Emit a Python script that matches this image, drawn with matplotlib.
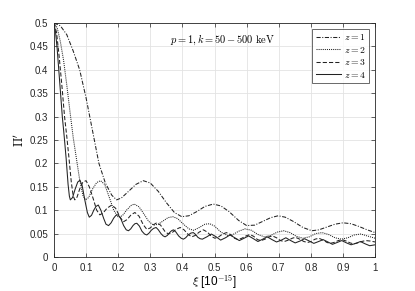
import matplotlib
matplotlib.use("Agg")
import matplotlib.pyplot as plt

plt.rcParams['font.family'] = ['Liberation Sans', 'DejaVu Sans']
plt.rcParams['mathtext.fontset'] = 'cm'

# z = 1 (dash-dot)
x1 = [0, 0.02, 0.04, 0.06, 0.08, 0.10, 0.12, 0.14, 0.16, 0.18, 0.195, 0.21, 0.235, 0.255,
      0.278, 0.30, 0.325, 0.35, 0.375, 0.398, 0.42, 0.445, 0.47, 0.496, 0.52, 0.545, 0.575,
      0.60, 0.625, 0.65, 0.675, 0.698, 0.72, 0.745, 0.775, 0.803, 0.825, 0.85, 0.875, 0.90,
      0.925, 0.95, 0.975, 1.0]
y1 = [0.5, 0.494, 0.475, 0.44, 0.40, 0.34, 0.27, 0.20, 0.158, 0.132, 0.122, 0.126, 0.142, 0.155,
      0.163, 0.158, 0.14, 0.116, 0.095, 0.086, 0.088, 0.097, 0.108, 0.113, 0.109, 0.097, 0.078,
      0.067, 0.068, 0.076, 0.084, 0.088, 0.085, 0.076, 0.063, 0.056, 0.058, 0.064, 0.07, 0.073,
      0.071, 0.065, 0.058, 0.052]

# z = 2 (dotted)
x2 = [0, 0.01, 0.02, 0.03, 0.04, 0.05, 0.06, 0.07, 0.08, 0.09, 0.098, 0.108, 0.12, 0.133,
      0.145, 0.158, 0.172, 0.186, 0.2, 0.213, 0.226, 0.24, 0.25, 0.265, 0.28, 0.295, 0.31,
      0.325, 0.34, 0.355, 0.37, 0.385, 0.40, 0.42, 0.435, 0.45, 0.47, 0.485, 0.50, 0.52, 0.54,
      0.555, 0.575, 0.595, 0.615, 0.635, 0.655, 0.675, 0.695, 0.715, 0.735, 0.755, 0.775,
      0.795, 0.815, 0.835, 0.855, 0.875, 0.895, 0.915, 0.935, 0.955, 0.975, 1.0]
y2 = [0.5, 0.49, 0.46, 0.42, 0.367, 0.31, 0.255, 0.21, 0.165, 0.132, 0.122, 0.127, 0.145, 0.159,
      0.163, 0.155, 0.128, 0.10, 0.085, 0.088, 0.10, 0.11, 0.113, 0.107, 0.092, 0.076, 0.068,
      0.07, 0.077, 0.084, 0.086, 0.082, 0.072, 0.06, 0.057, 0.062, 0.07, 0.071, 0.066, 0.053, 0.046,
      0.047, 0.055, 0.06, 0.057, 0.048, 0.043, 0.046, 0.053, 0.056, 0.052, 0.044, 0.04,
      0.043, 0.05, 0.052, 0.048, 0.041, 0.038, 0.041, 0.047, 0.049, 0.045, 0.04]

# z = 3 (dashed)
x3 = [0, 0.008, 0.016, 0.025, 0.033, 0.04, 0.047, 0.054, 0.06, 0.065, 0.072, 0.08, 0.09, 0.1,
      0.11, 0.122, 0.133, 0.143, 0.153, 0.165, 0.18, 0.192, 0.205, 0.216, 0.228, 0.24, 0.252,
      0.265, 0.278, 0.289, 0.3, 0.31, 0.32, 0.332, 0.345, 0.356, 0.368, 0.38, 0.393, 0.405,
      0.418, 0.429, 0.44, 0.452, 0.465, 0.478, 0.49, 0.501, 0.513, 0.525, 0.537, 0.55, 0.562,
      0.573, 0.585, 0.598, 0.61, 0.622, 0.634, 0.645, 0.657, 0.67, 0.68, 0.693, 0.705, 0.717,
      0.73, 0.742, 0.752, 0.765, 0.778, 0.79, 0.8, 0.813, 0.825, 0.838, 0.85, 0.86, 0.872,
      0.885, 0.897, 0.91, 0.922, 0.933, 0.945, 0.958, 0.97, 0.985, 1.0]
y3 = [0.5, 0.48, 0.43, 0.364, 0.30, 0.257, 0.21, 0.16, 0.13, 0.122, 0.128, 0.145, 0.16, 0.163,
      0.15, 0.125, 0.10, 0.09, 0.094, 0.104, 0.111, 0.104, 0.086, 0.075, 0.08, 0.09, 0.095,
      0.087, 0.069, 0.059, 0.062, 0.069, 0.073, 0.068, 0.055, 0.049, 0.052, 0.059, 0.063, 0.058,
      0.048, 0.043, 0.046, 0.053, 0.058, 0.053, 0.044, 0.04, 0.043, 0.049, 0.052, 0.048, 0.04,
      0.037, 0.04, 0.045, 0.048, 0.044, 0.037, 0.035, 0.038, 0.043, 0.045, 0.041, 0.035, 0.033,
      0.036, 0.04, 0.042, 0.038, 0.033, 0.031, 0.033, 0.038, 0.04, 0.036, 0.031, 0.029, 0.031,
      0.035, 0.037, 0.034, 0.03, 0.028, 0.03, 0.033, 0.035, 0.034, 0.032]

# z = 4 (solid)
x4 = [0, 0.005, 0.01, 0.019, 0.026, 0.032, 0.038, 0.044, 0.048, 0.051, 0.058, 0.066, 0.074,
      0.081, 0.088, 0.096, 0.104, 0.11, 0.117, 0.124, 0.131, 0.138, 0.146, 0.155, 0.162, 0.17,
      0.178, 0.186, 0.193, 0.2, 0.208, 0.217, 0.225, 0.232, 0.239, 0.246, 0.252, 0.258, 0.266,
      0.274, 0.282, 0.289, 0.296, 0.303, 0.31, 0.318, 0.325, 0.333, 0.34, 0.346, 0.353, 0.36,
      0.366, 0.372, 0.38, 0.388, 0.396, 0.403, 0.41, 0.418, 0.426, 0.434, 0.441, 0.448, 0.455,
      0.462, 0.476, 0.49, 0.505, 0.519, 0.534, 0.548, 0.563, 0.577, 0.592, 0.606, 0.621, 0.635,
      0.65, 0.664, 0.679, 0.693, 0.708, 0.722, 0.737, 0.751, 0.766, 0.78, 0.795, 0.809, 0.824,
      0.838, 0.853, 0.867, 0.882, 0.896, 0.911, 0.925, 0.94, 0.954, 0.969, 0.983, 1.0]
y4 = [0.5, 0.48, 0.445, 0.364, 0.30, 0.257, 0.21, 0.155, 0.13, 0.122, 0.127, 0.145, 0.16,
      0.164, 0.152, 0.122, 0.095, 0.085, 0.089, 0.10, 0.108, 0.111, 0.10, 0.082, 0.07, 0.067,
      0.073, 0.083, 0.089, 0.09, 0.082, 0.067, 0.058, 0.056, 0.06, 0.067, 0.071, 0.072, 0.066,
      0.055, 0.049, 0.047, 0.051, 0.057, 0.061, 0.063, 0.058, 0.05, 0.045, 0.043, 0.046, 0.052,
      0.056, 0.058, 0.053, 0.045, 0.04, 0.038, 0.041, 0.047, 0.051, 0.052, 0.048, 0.042, 0.039,
      0.038, 0.043, 0.049, 0.043, 0.036, 0.041, 0.047, 0.041, 0.035, 0.04, 0.045, 0.039, 0.033,
      0.038, 0.043, 0.037, 0.032, 0.036, 0.041, 0.035, 0.03, 0.034, 0.039, 0.034, 0.029, 0.033,
      0.037, 0.032, 0.027, 0.031, 0.035, 0.03, 0.026, 0.029, 0.033, 0.028, 0.024, 0.026]

xticks = [0, 0.1, 0.2, 0.3, 0.4, 0.5, 0.6, 0.7, 0.8, 0.9, 1]
xticklabels = ['0', '0.1', '0.2', '0.3', '0.4', '0.5', '0.6', '0.7', '0.8', '0.9', '1']
yticks = [0, 0.05, 0.1, 0.15, 0.2, 0.25, 0.3, 0.35, 0.4, 0.45, 0.5]
yticklabels = ['0', '0.05', '0.1', '0.15', '0.2', '0.25', '0.3', '0.35', '0.4', '0.45', '0.5']

fig = plt.figure(figsize=(4.15, 2.91), dpi=100)
ax = fig.add_axes([0.130, 0.117, 0.774, 0.804])

lw = 0.75
ax.plot(x1, y1, color='#222222', lw=lw, linestyle=(0, (4, 1.5, 1, 1.5)), label='$z=1$')
ax.plot(x2, y2, color='#222222', lw=lw, linestyle=(0, (1, 1)), label='$z=2$')
ax.plot(x3, y3, color='#222222', lw=lw, linestyle=(0, (4, 2)), label='$z=3$')
ax.plot(x4, y4, color='#222222', lw=lw, linestyle='-', label='$z=4$')

ax.set_xlim(0, 1)
ax.set_ylim(0, 0.5)
ax.set_xticks(xticks)
ax.set_xticklabels(xticklabels)
ax.set_yticks(yticks)
ax.set_yticklabels(yticklabels)
ax.tick_params(direction='in', length=3, width=0.5, labelsize=7, colors='#262626',
               top=True, right=True, pad=4)
ax.grid(True, color='#e3e3e3', lw=0.6)
ax.set_axisbelow(True)
for s in ax.spines.values():
    s.set_linewidth(0.6)
    s.set_color('#262626')

ax.set_xlabel(r'$\xi$ [10$^{-15}$]', fontsize=8.5, labelpad=1)
ax.set_ylabel(r"$\Pi'$", fontsize=9, labelpad=2)

ax.text(0.526, 0.464, r'$p=1,k=50-500\ \mathrm{keV}$', fontsize=7.5, ha='center', va='center')

leg = ax.legend(loc='upper right', fontsize=7, frameon=True, fancybox=False,
                edgecolor='#262626', handlelength=2.6, handletextpad=0.3,
                borderpad=0.35, labelspacing=0.25, borderaxespad=0.6)
leg.get_frame().set_linewidth(0.6)

fig.savefig('out.png', dpi=100)
